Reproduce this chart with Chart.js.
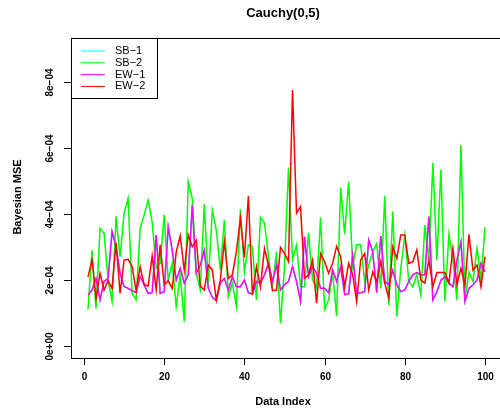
<!DOCTYPE html>
<html>
<head>
<meta charset="utf-8">
<script src="https://cdn.jsdelivr.net/npm/chart.js@4/dist/chart.umd.min.js"></script>
<style>
  body { margin: 0; background: #fff; }
  #wrap { width: 500px; height: 413px; }
</style>
</head>
<body>
<div id="wrap"><canvas id="mseChart" width="500" height="413"></canvas></div>
<script>
// data index 1..100
const dataIndex = Array.from({ length: 100 }, (_, i) => i + 1);

const seriesNames = ['SB\u22121', 'SB\u22122', 'EW\u22121', 'EW\u22122'];
const seriesColors = ['#00ffff', '#00ff00', '#ff00ff', '#ff0000'];

// SB-1 sits under EW-1 (only seen as the bluish tint of the magenta line)
const sb1 = [
  1.54e-4, 1.69e-4, 2.04e-4, 1.39e-4, 1.95e-4, 2.04e-4, 3.46e-4, 3.00e-4, 2.20e-4, 1.80e-4,
  1.74e-4, 1.67e-4, 1.61e-4, 2.10e-4, 1.85e-4, 1.59e-4, 1.61e-4, 3.36e-4, 1.59e-4, 1.64e-4,
  3.61e-4, 2.90e-4, 1.99e-4, 2.35e-4, 1.90e-4, 2.15e-4, 4.27e-4, 2.20e-4, 2.45e-4, 2.90e-4,
  1.74e-4, 1.47e-4, 1.37e-4, 1.90e-4, 2.04e-4, 1.69e-4, 2.09e-4, 1.79e-4, 1.79e-4, 1.99e-4,
  1.61e-4, 1.57e-4, 1.95e-4, 1.90e-4, 2.15e-4, 2.50e-4, 1.95e-4, 2.45e-4, 1.69e-4, 1.85e-4,
  1.95e-4, 2.40e-4, 1.95e-4, 1.34e-4, 3.31e-4, 2.09e-4, 2.40e-4, 2.20e-4, 1.74e-4, 1.74e-4,
  1.61e-4, 2.30e-4, 1.95e-4, 2.40e-4, 1.55e-4, 1.58e-4, 2.75e-4, 1.59e-4, 1.61e-4, 1.64e-4,
  3.21e-4, 2.85e-4, 1.61e-4, 3.33e-4, 1.95e-4, 1.85e-4, 2.29e-4, 1.85e-4, 1.64e-4, 1.69e-4,
  1.95e-4, 2.15e-4, 2.22e-4, 2.15e-4, 2.15e-4, 3.92e-4, 1.39e-4, 1.64e-4, 1.99e-4, 2.09e-4,
  1.90e-4, 1.79e-4, 2.60e-4, 3.16e-4, 1.34e-4, 1.74e-4, 1.85e-4, 1.99e-4, 2.50e-4, 2.24e-4
];

const sb2 = [
  1.10e-4, 2.90e-4, 1.13e-4, 3.56e-4, 3.41e-4, 2.00e-4, 1.34e-4, 3.92e-4, 2.70e-4, 4.02e-4,
  4.47e-4, 1.59e-4, 1.39e-4, 3.56e-4, 3.97e-4, 4.42e-4, 3.76e-4, 2.35e-4, 2.50e-4, 3.97e-4,
  2.00e-4, 2.50e-4, 1.19e-4, 2.15e-4, 0.73e-4, 4.98e-4, 4.47e-4, 2.20e-4, 1.70e-4, 4.30e-4,
  1.90e-4, 4.12e-4, 3.50e-4, 2.30e-4, 3.82e-4, 1.49e-4, 1.90e-4, 1.20e-4, 4.14e-4, 2.24e-4,
  3.06e-4, 3.00e-4, 1.39e-4, 3.90e-4, 3.73e-4, 2.70e-4, 1.79e-4, 2.85e-4, 0.68e-4, 2.40e-4,
  5.41e-4, 2.60e-4, 3.06e-4, 1.79e-4, 1.79e-4, 3.43e-4, 2.00e-4, 1.74e-4, 3.90e-4, 1.10e-4,
  1.39e-4, 2.20e-4, 0.90e-4, 4.80e-4, 3.39e-4, 4.98e-4, 2.40e-4, 3.06e-4, 3.06e-4, 1.95e-4,
  2.45e-4, 2.85e-4, 3.10e-4, 1.74e-4, 4.54e-4, 1.23e-4, 4.07e-4, 0.88e-4, 2.35e-4, 3.36e-4,
  1.95e-4, 1.79e-4, 2.15e-4, 1.54e-4, 3.66e-4, 2.60e-4, 5.55e-4, 2.60e-4, 5.35e-4, 1.34e-4,
  3.39e-4, 2.60e-4, 1.39e-4, 6.09e-4, 1.39e-4, 2.24e-4, 1.95e-4, 2.95e-4, 2.00e-4, 3.60e-4
];

const ew1 = [
  1.54e-4, 1.69e-4, 2.04e-4, 1.39e-4, 1.95e-4, 2.04e-4, 3.46e-4, 3.00e-4, 2.20e-4, 1.80e-4,
  1.74e-4, 1.67e-4, 1.61e-4, 2.10e-4, 1.85e-4, 1.59e-4, 1.61e-4, 3.36e-4, 1.59e-4, 1.64e-4,
  3.61e-4, 2.90e-4, 1.99e-4, 2.35e-4, 1.90e-4, 2.15e-4, 4.27e-4, 2.20e-4, 2.45e-4, 2.90e-4,
  1.74e-4, 1.47e-4, 1.37e-4, 1.90e-4, 2.04e-4, 1.69e-4, 2.09e-4, 1.79e-4, 1.79e-4, 1.99e-4,
  1.61e-4, 1.57e-4, 1.95e-4, 1.90e-4, 2.15e-4, 2.50e-4, 1.95e-4, 2.45e-4, 1.69e-4, 1.85e-4,
  1.95e-4, 2.40e-4, 1.95e-4, 1.34e-4, 3.31e-4, 2.09e-4, 2.40e-4, 2.20e-4, 1.74e-4, 1.74e-4,
  1.61e-4, 2.30e-4, 1.95e-4, 2.40e-4, 1.55e-4, 1.58e-4, 2.75e-4, 1.59e-4, 1.61e-4, 1.64e-4,
  3.21e-4, 2.85e-4, 1.61e-4, 3.33e-4, 1.95e-4, 1.85e-4, 2.29e-4, 1.85e-4, 1.64e-4, 1.69e-4,
  1.95e-4, 2.15e-4, 2.22e-4, 2.15e-4, 2.15e-4, 3.92e-4, 1.39e-4, 1.64e-4, 1.99e-4, 2.09e-4,
  1.90e-4, 1.79e-4, 2.60e-4, 3.16e-4, 1.34e-4, 1.74e-4, 1.85e-4, 1.99e-4, 2.50e-4, 2.24e-4
];

const ew2 = [
  2.09e-4, 2.60e-4, 1.44e-4, 2.20e-4, 1.69e-4, 1.97e-4, 1.74e-4, 3.13e-4, 1.59e-4, 2.60e-4,
  2.62e-4, 2.40e-4, 1.67e-4, 2.40e-4, 1.85e-4, 1.81e-4, 2.72e-4, 1.69e-4, 3.06e-4, 1.85e-4,
  1.97e-4, 1.74e-4, 2.85e-4, 3.33e-4, 2.29e-4, 3.36e-4, 3.00e-4, 3.20e-4, 1.81e-4, 1.69e-4,
  2.45e-4, 2.30e-4, 1.39e-4, 2.00e-4, 3.16e-4, 2.04e-4, 2.15e-4, 2.85e-4, 3.87e-4, 2.68e-4,
  4.54e-4, 1.54e-4, 2.40e-4, 1.79e-4, 2.95e-4, 2.45e-4, 1.67e-4, 1.69e-4, 2.98e-4, 2.80e-4,
  2.55e-4, 7.76e-4, 4.02e-4, 4.22e-4, 2.04e-4, 2.15e-4, 2.60e-4, 1.29e-4, 2.80e-4, 2.55e-4,
  2.20e-4, 2.50e-4, 3.02e-4, 2.70e-4, 1.79e-4, 2.50e-4, 2.15e-4, 1.34e-4, 2.60e-4, 2.80e-4,
  1.69e-4, 2.24e-4, 1.95e-4, 2.55e-4, 1.90e-4, 1.44e-4, 3.00e-4, 2.65e-4, 3.36e-4, 3.36e-4,
  2.50e-4, 2.55e-4, 2.91e-4, 1.99e-4, 1.90e-4, 2.60e-4, 1.79e-4, 2.22e-4, 2.22e-4, 2.22e-4,
  1.90e-4, 2.95e-4, 1.85e-4, 2.35e-4, 1.85e-4, 3.38e-4, 2.29e-4, 2.45e-4, 1.79e-4, 2.70e-4
];

const xTicks = [0, 20, 40, 60, 80, 100];
const yTicks = [0, 2e-4, 4e-4, 6e-4, 8e-4];
const yTickLabels = ['0e+00', '2e\u221204', '4e\u221204', '6e\u221204', '8e\u221204'];

const allSeries = [sb1, sb2, ew1, ew2];

const toPoints = vals => dataIndex.map((x, j) => ({ x: x, y: vals[j] }));

// R style frame, ticks, titles and legend
const rDecor = {
  id: 'rDecor',
  afterDraw(chart) {
    const c = chart.ctx;
    const a = chart.chartArea;
    const xs = chart.scales.x, ys = chart.scales.y;
    c.save();
    c.strokeStyle = '#000';
    c.fillStyle = '#000';
    c.lineWidth = 1;

    // box
    c.strokeRect(a.left + 0.5, a.top + 0.5, a.right - a.left + 1, a.bottom - a.top);

    // x axis
    c.font = 'bold 10px "Liberation Sans", Arial, sans-serif';
    c.textAlign = 'center';
    c.textBaseline = 'middle';
    xTicks.forEach(t => {
      const px = Math.round(xs.getPixelForValue(t)) + 0.5;
      c.beginPath();
      c.moveTo(px, a.bottom);
      c.lineTo(px, a.bottom + 7);
      c.stroke();
      c.fillText(String(t), px, 377);
    });

    // y axis
    yTicks.forEach((t, k) => {
      const py = Math.round(ys.getPixelForValue(t)) + 0.5;
      c.beginPath();
      c.moveTo(a.left, py);
      c.lineTo(a.left - 7, py);
      c.stroke();
      c.save();
      c.translate(50, py);
      c.rotate(-Math.PI / 2);
      c.fillText(yTickLabels[k], 0, 0);
      c.restore();
    });

    // titles
    c.font = 'bold 13px "Liberation Sans", Arial, sans-serif';
    c.fillText('Cauchy(0,5)', 283, 13);
    c.font = 'bold 11px "Liberation Sans", Arial, sans-serif';
    c.fillText('Data Index', 283, 402);
    c.save();
    c.translate(18, 197);
    c.rotate(-Math.PI / 2);
    c.fillText('Bayesian MSE', 0, 0);
    c.restore();

    // legend box, top-left inside plot
    const lx = a.left, ly = a.top, lw = 86, lh = 60;
    c.fillStyle = '#fff';
    c.fillRect(lx, ly, lw, lh);
    c.strokeStyle = '#000';
    c.strokeRect(lx + 0.5, ly + 0.5, lw, lh);
    c.font = '11px "Liberation Sans", Arial, sans-serif';
    c.textAlign = 'left';
    chart.data.datasets.forEach((ds, k) => {
      const ry = ly + 13 + k * 11.8;
      c.strokeStyle = ds.borderColor;
      c.beginPath();
      c.moveTo(lx + 10, ry);
      c.lineTo(lx + 34, ry);
      c.stroke();
      c.fillStyle = '#000';
      c.fillText(ds.label, lx + 44, ry);
    });
    c.restore();
  }
};

const ctx = document.getElementById('mseChart');

new Chart(ctx, {
  type: 'line',
  data: {
    datasets: seriesNames.map((name, k) => ({
      label: name,
      data: toPoints(allSeries[k]),
      borderColor: seriesColors[k],
      borderWidth: 1.5,
      pointRadius: 0,
      tension: 0,
      fill: false,
      order: 4 - k
    }))
  },
  options: {
    responsive: false,
    animation: false,
    layout: { padding: { left: 71, top: 38, right: 0, bottom: 55 } },
    scales: {
      x: { type: 'linear', display: false, min: -3.24, max: 103.74 },
      y: { type: 'linear', display: false, min: -0.373e-4, max: 9.338e-4 }
    },
    plugins: {
      legend: { display: false },
      tooltip: { enabled: false }
    }
  },
  plugins: [rDecor]
});
</script>
</body>
</html>
